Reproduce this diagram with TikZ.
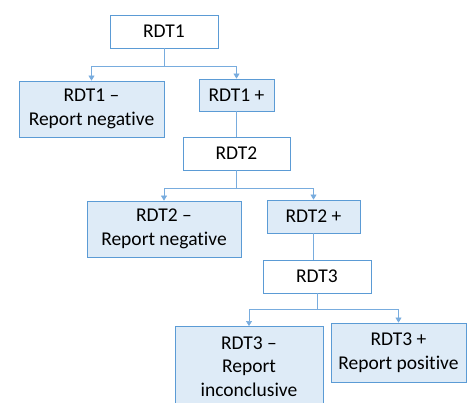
\documentclass[tikz,border=0pt]{standalone}
\usepackage{fontspec}
\setmainfont[Ligatures=NoCommon]{Carlito}
\usetikzlibrary{arrows.meta}
\definecolor{rdtblue}{RGB}{91,155,213}
\definecolor{rdtline}{RGB}{120,172,222}
\definecolor{rdtfill}{RGB}{222,235,247}

\tikzset{
  testbox/.style={draw=rdtblue, thick, fill=white, align=center,
    font=\fontsize{19.5}{24.5}\selectfont, inner sep=2pt},
  resultbox/.style={testbox, fill=rdtfill},
  link/.style={draw=rdtline, semithick},
  linkarrow/.style={link, -{Triangle[width=6pt,length=5pt]}}
}

\begin{document}
\begin{tikzpicture}[x=1pt,y=-1pt]
\useasboundingbox (0,0) rectangle (471,402);
% first test
\node[testbox, minimum width=108pt, minimum height=33pt] (rdt1) at (164,31.5) {RDT1};
\node[resultbox, minimum width=145pt, minimum height=56pt] (rdt1neg) at (91.5,109) {RDT1 --\\Report negative};
\node[resultbox, minimum width=75pt, minimum height=32pt] (rdt1pos) at (236.5,95) {RDT1 +};
% second test
\node[testbox, minimum width=107pt, minimum height=33pt] (rdt2) at (236.5,153.5) {RDT2};
\node[resultbox, minimum width=154pt, minimum height=56pt] (rdt2neg) at (164,229) {RDT2 --\\Report negative};
\node[resultbox, minimum width=93pt, minimum height=33pt] (rdt2pos) at (313.5,216.5) {RDT2 +};
% third test
\node[testbox, minimum width=108pt, minimum height=33pt] (rdt3) at (317,276.5) {RDT3};
\node[resultbox, minimum width=148pt, minimum height=80pt, anchor=north,
      font=\fontsize{19.5}{23.5}\selectfont] (rdt3neg) at (249,326) {RDT3 --\\Report\\inconclusive};
\node[resultbox, minimum width=135pt, minimum height=59pt] (rdt3pos) at (398.5,352.5) {RDT3 +\\Report positive};
% branch points
\coordinate (split1) at (164,66);
\coordinate (split2) at (236.5,188);
\coordinate (split3) at (317,309);
% connectors
\draw[link] (rdt1.south) -- (split1);
\draw[linkarrow] (split1) -| (rdt1neg.north);
\draw[linkarrow] (split1) -| (rdt1pos.north);
\draw[link] (rdt1pos.south) -- (rdt2.north);
\draw[link] (rdt2.south) -- (split2);
\draw[linkarrow] (split2) -| (rdt2neg.north);
\draw[linkarrow] (split2) -| (rdt2pos.north);
\draw[link] (rdt2pos.south) -- (rdt3.north -| rdt2pos.south);
\draw[link] (rdt3.south) -- (split3);
\draw[linkarrow] (split3) -| (rdt3neg.north);
\draw[linkarrow] (split3) -| (rdt3pos.north);
\end{tikzpicture}
\end{document}
